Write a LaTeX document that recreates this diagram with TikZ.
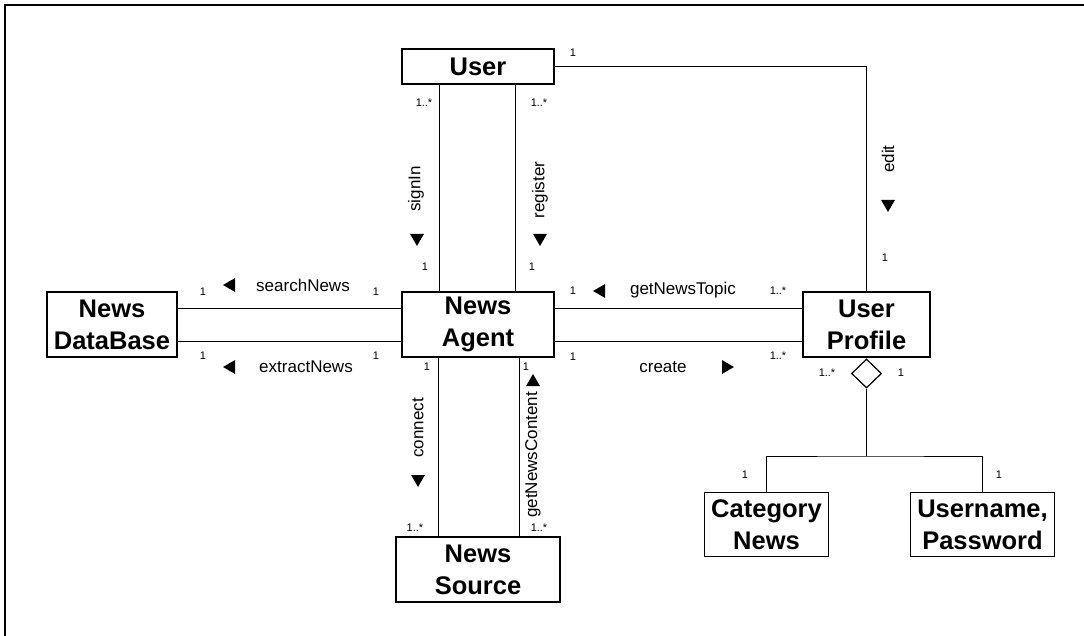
\documentclass[tikz,border=0pt]{standalone}
\usepackage{fontspec}
\setmainfont{Liberation Sans}
\usetikzlibrary{shapes.geometric, positioning, calc}
\tikzset{
  cls/.style={draw,line width=1.2pt,align=center,inner sep=0pt,font=\bfseries\fontsize{25.5}{32}\selectfont},
  lbl/.style={inner sep=0pt,font=\fontsize{17}{20}\selectfont},
  mult/.style={inner sep=0pt,font=\fontsize{11}{13}\selectfont},
  tri/.style={regular polygon,regular polygon sides=3,fill,inner sep=0pt,minimum size=16pt},
  assoc/.style={line width=0.9pt}
}

\begin{document}
\begin{tikzpicture}[x=1pt,y=-1pt,node distance=2cm,on grid]
  \useasboundingbox (0,0) rectangle (1084,636);
  \draw[line width=1.2pt] (5,636) -- (5,5) -- (1084,5);

  \node[cls,minimum width=152pt,minimum height=35pt] (user) at (478,66.5) {User};
  \node[cls,minimum width=152pt,minimum height=65pt] (agent) [below=258pt of user] {News\\Agent};
  \node[cls,minimum width=130pt,minimum height=65pt] (db) [left=366pt of agent] {News\\DataBase};
  \node[cls,minimum width=127pt,minimum height=65pt] (prof) [right=388.5pt of agent] {User\\Profile};
  \node[cls,minimum width=164pt,minimum height=65pt] (src) [below=245pt of agent] {News\\Source};
  \node[draw,line width=1.2pt,diamond,inner sep=0pt,minimum width=30pt,minimum height=29pt] (agg) [below=49pt of prof] {};
  \node[cls,minimum width=124pt,minimum height=64pt] (cat) [below left=200pt and 100pt of prof] {Category\\News};
  \node[cls,minimum width=144pt,minimum height=64pt] (usr) [below right=200pt and 116pt of prof] {Username,\\Password};
  \coordinate[below=82.5pt of agg] (fork);

  \draw[assoc] ([xshift=-39pt]user.south) -- ([xshift=-39pt]agent.north);
  \draw[assoc] ([xshift=37pt]user.south) -- ([xshift=37pt]agent.north);
  \draw[assoc] (user.east) -| (prof.north);
  \draw[assoc] ([yshift=16.5pt]db.east) -- ([yshift=16.5pt]agent.west);
  \draw[assoc] ([yshift=-16.5pt]db.east) -- ([yshift=-16.5pt]agent.west);
  \draw[assoc] ([yshift=16.5pt]agent.east) -- ([yshift=16.5pt]prof.west);
  \draw[assoc] ([yshift=-16.5pt]agent.east) -- ([yshift=-16.5pt]prof.west);
  \draw[assoc] ([xshift=-40pt]agent.south) -- ([xshift=-40pt]src.north);
  \draw[assoc] ([xshift=41pt]agent.south) -- ([xshift=41pt]src.north);
  \draw[assoc] (agg.south) -- (fork);
  \draw[assoc] (cat.north) |- (fork) -| (usr.north);

  % association names
  \node[lbl,rotate=90] (signin) at (416,189) {signIn};
  \node[lbl,rotate=90] (register) at (540,190) {register};
  \node[lbl,rotate=90] (edit) at (888,159) {edit};
  \node[lbl] (search) at (303,285) {searchNews};
  \node[lbl] (extract) at (306,367) {extractNews};
  \node[lbl] (topic) at (683,290) {getNewsTopic};
  \node[lbl] (create) at (663,367) {create};
  \node[lbl,rotate=90] (connect) at (418,428) {connect};
  \node[lbl,rotate=90] (content) at (533,455) {getNewsContent};

  % reading direction
  \foreach \x/\y/\a [count=\i] in {417/238/180, 540/238/180, 888/204/180,
      231/285/90, 231/367/90, 601/291/90, 726/367/-90, 418/479/180, 533/382/0}
    \node[tri,rotate=\a] (dir\i) at (\x,\y) {};

  % multiplicities
  \foreach \x/\y/\t [count=\i] in {573/53/1, 424/103/1..*, 539/103/1..*, 425/267/1,
      532/267/1, 885/258/1, 203/292/1, 376/292/1, 203/356/1, 376/356/1,
      573/291/1, 778/291/1..*, 573/357/1, 778/356/1..*, 427/367/1, 526/367/1,
      415/528/1..*, 539/528/1..*, 827/373/1..*, 901/373/1, 745/475/1, 999/475/1}
    \node[mult] (m\i) at (\x,\y) {\t};
\end{tikzpicture}
\end{document}
